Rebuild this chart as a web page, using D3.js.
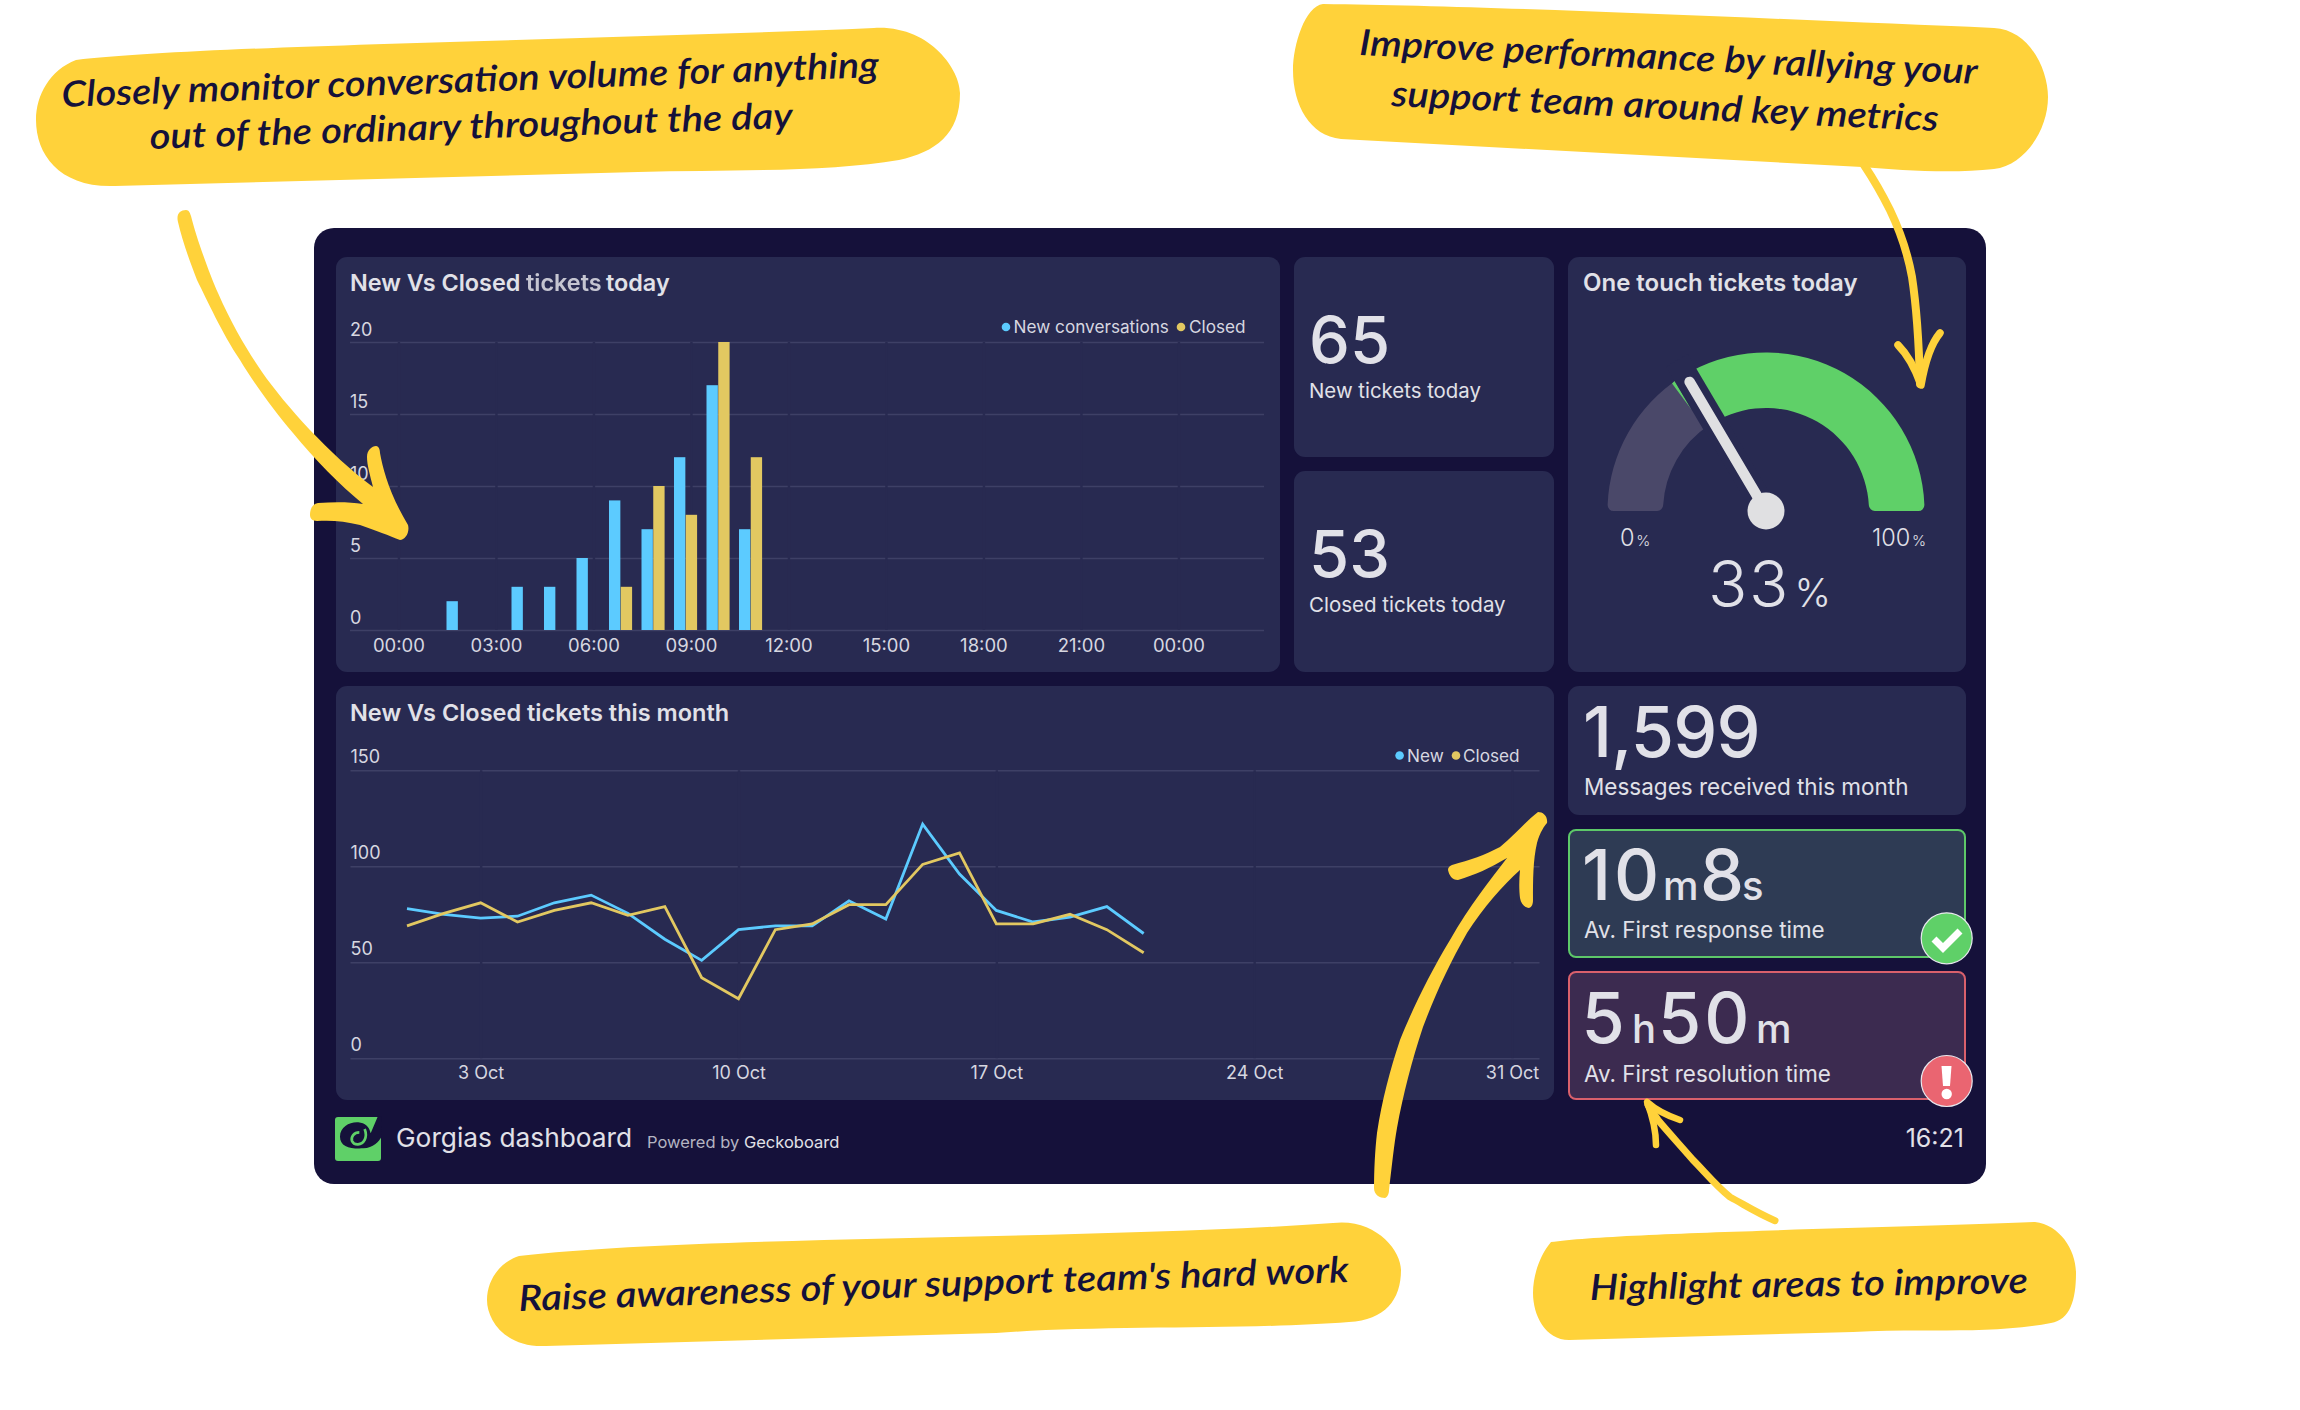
<!DOCTYPE html>
<html><head><meta charset="utf-8">
<script src="https://cdn.jsdelivr.net/npm/d3@7"></script>
<style>
html,body{margin:0;padding:0;background:#fff}
svg{display:block}
text{font-family:Inter,"Noto Sans",sans-serif}
.tick text{font-family:Inter,"Noto Sans",sans-serif}
</style></head><body>
<svg id="c" width="2300" height="1410" viewBox="0 0 2300 1410"></svg>
<script>
// ---- data ----
const hours = d3.range(0, 25);
const hourTicks = [0, 3, 6, 9, 12, 15, 18, 21, 24];
const hourLabels = ["00:00","03:00","06:00","09:00","12:00","15:00","18:00","21:00","00:00"];
const todayNew    = [0,0,2,0,3,3,5,9,7,12,17,7];
const todayClosed = [0,0,0,0,0,0,0,3,10,8,20,12];
const todayYTicks = [0,5,10,15,20];
const days = d3.range(1, 22);
const monthNew    = [78,75,73,74,81,85,75.5,62,51,67,69,69,82,72.5,122,96,77,71,73.5,79,65];
const monthClosed = [69,75.5,81,71,77,81,74.5,79,42,31,67,70,80,80,101,107,70,70,75,67,55];
const monthTicks = [3,10,17,24,31];
const monthYTicks = [0,50,100,150];
const gaugeValue = 33;

// ---- palette ----
const C = {dash:"#15113a",panel:"#282a51",grid:"#3e4066",text:"#e1e1e8",tick:"#d7d7e0",blue:"#5ccbff",gold:"#e2c861",
  yellow:"#ffd23a",green:"#5fd068",red:"#ea6571",gray:"#4a4869",ink:"#15113a"};

const svg = d3.select("#c");
const panels = [
  [336,257,944,415],[1294,257,260,200],[1294,471,260,201],[1568,257,398,415],
  [336,686,1218,414],[1568,686,398,129]];

function txt(g,x,y,s,size,o={}){
  return g.append("text").attr("x",x).attr("y",y).text(s)
    .attr("font-size",size).attr("font-weight",o.w||400).attr("fill",o.c||C.text)
    .attr("text-anchor",o.a||"start").attr("opacity",o.op==null?1:o.op)
    .attr("letter-spacing",o.ls||null);
}

// dashboard
svg.append("rect").attr("x",314).attr("y",228).attr("width",1672).attr("height",956).attr("rx",20).attr("fill",C.dash);
svg.selectAll("rect.p").data(panels).join("rect").attr("class","p")
  .attr("x",d=>d[0]).attr("y",d=>d[1]).attr("width",d=>d[2]).attr("height",d=>d[3]).attr("rx",11).attr("fill",C.panel);
svg.append("rect").attr("x",1569).attr("y",830).attr("width",396).attr("height",127).attr("rx",7).attr("fill","#2e3b54").attr("stroke","#5dc869").attr("stroke-width",2);
svg.append("rect").attr("x",1569).attr("y",972).attr("width",396).attr("height",127).attr("rx",7).attr("fill","#3c2b50").attr("stroke","#d9606c").attr("stroke-width",2);

// ---- bar chart (today) ----
const bars = svg.append("g");
txt(bars,350,290.5,"New Vs Closed",23.4,{w:600});
txt(bars,526,290.5,"tickets",23.4,{w:600,op:.85}).style("filter","blur(.6px)");
txt(bars,606,290.5,"today",23.4,{w:600});
const x0 = d3.scaleBand().domain(hours).range([377,1189.5]).paddingInner(.277).paddingOuter(.1385);
const x1 = d3.scaleBand().domain(["new","closed"]).range([0,x0.bandwidth()]);
const yT = d3.scaleLinear().domain([0,20]).range([630,342]);
const gyT = bars.append("g").attr("transform","translate(350,0)")
  .call(d3.axisRight(yT).tickValues(todayYTicks).tickSize(914));
gyT.select(".domain").remove();
gyT.selectAll("line").attr("stroke",C.grid).attr("stroke-width",1.6);
gyT.selectAll("text").attr("x",0).attr("dy",-6.5).attr("text-anchor","start").attr("font-size",18).attr("fill",C.tick)
   .attr("dominant-baseline","auto");
const gxT = bars.append("g").attr("transform","translate(5.7,630)")
  .call(d3.axisBottom(x0).tickValues(hourTicks).tickFormat((d,i)=>hourLabels[i]).tickSize(-288).tickPadding(0));
gxT.select(".domain").remove();
gxT.selectAll("line").attr("stroke",C.panel).attr("stroke-width",2.4);
gxT.selectAll("text").attr("y",21.5).attr("dy",0).attr("font-size",18.5).attr("fill",C.tick);
const rows = [["new",todayNew,C.blue],["closed",todayClosed,C.gold]];
rows.forEach(([k,vals,col])=>{
  bars.append("g").selectAll("rect").data(vals.map((v,i)=>({h:hours[i],v})).filter(d=>d.v>0)).join("rect")
    .attr("x",d=>x0(d.h)+x1(k)).attr("width",x1.bandwidth()-.4)
    .attr("y",d=>yT(d.v)).attr("height",d=>yT(0)-yT(d.v)).attr("fill",col);
});
function legend(g,y,items){
  items.forEach(([dx,tx,s,col])=>{
    g.append("circle").attr("cx",dx).attr("cy",y-6).attr("r",4.3).attr("fill",col);
    txt(g,tx,y,s,17.2,{c:C.tick});
  });
}
legend(bars,333,[[1006,1013.5,"New conversations",C.blue],[1181,1189,"Closed",C.gold]]);

// ---- line chart (month) ----
const lineG = svg.append("g");
txt(lineG,350,720.5,"New Vs Closed tickets this month",23.5,{w:600});
const xM = d3.scaleLinear().domain([1,31]).range([407,1512]);
const yM = d3.scaleLinear().domain([0,150]).range([1058.3,770.3]);
const gyM = lineG.append("g").attr("transform","translate(350.5,0)")
  .call(d3.axisRight(yM).tickValues(monthYTicks).tickSize(1189));
gyM.select(".domain").remove();
gyM.selectAll("line").attr("stroke",C.grid).attr("stroke-width",1.6);
gyM.selectAll("text").attr("x",0).attr("dy",-8).attr("text-anchor","start").attr("font-size",18).attr("fill",C.tick);
const gxM = lineG.append("g").attr("transform","translate(0,1058.3)")
  .call(d3.axisBottom(xM).tickValues(monthTicks).tickFormat(d=>d+" Oct").tickSize(-288).tickPadding(0));
gxM.select(".domain").remove();
gxM.selectAll("line").attr("stroke",C.panel).attr("stroke-width",2.4);
gxM.selectAll("text").attr("y",20.5).attr("dy",0).attr("font-size",18).attr("fill",C.tick);
const line = d3.line().x((d,i)=>xM(days[i])).y(d=>yM(d));
lineG.append("path").datum(monthNew).attr("d",line).attr("fill","none").attr("stroke",C.blue).attr("stroke-width",2.8);
lineG.append("path").datum(monthClosed).attr("d",line).attr("fill","none").attr("stroke",C.gold).attr("stroke-width",2.8);
legend(lineG,761.5,[[1399.6,1407,"New",C.blue],[1456,1463,"Closed",C.gold]]);

// ---- big numbers ----
const big = svg.append("g");
txt(big,1309,363,"65",65,{w:500});
txt(big,1309,397.5,"New tickets today",20.4);
txt(big,1309,577,"53",65,{w:500});
txt(big,1309,611.5,"Closed tickets today",20.5);
txt(big,1583,290.5,"One touch tickets today",24,{w:600});
txt(big,1583,757,"1,599",70,{w:500,ls:-.8});
txt(big,1584,795,"Messages received this month",22.5);
[[1582,"10",70,3],[1663,"m",40,0],[1700,"8",70,0],[1742,"s",40,0]].forEach(d=>txt(big,d[0],900,d[1],d[2],{w:500,ls:d[3]}));
txt(big,1584,938,"Av. First response time",22.4);
[[1581.5,"5",70,0],[1632,"h",40,0],[1658,"50",70,3],[1756,"m",40,0]].forEach(d=>txt(big,d[0],1043,d[1],d[2],{w:500,ls:d[3]}));
txt(big,1584,1081.5,"Av. First resolution time",22.4);
txt(big,1964,1146.5,"16:21",25,{a:"end"});

// ---- gauge ----
const g = svg.append("g").attr("transform","translate(1766,511)");
const ang = d3.scaleLinear().domain([0,100]).range([-Math.PI/2,Math.PI/2]);
const arc = d3.arc().innerRadius(103).outerRadius(158.5).cornerRadius(6);
g.append("path").attr("d",arc({startAngle:ang(0),endAngle:ang(gaugeValue)})).attr("fill",C.gray);
g.append("path").attr("d",arc({startAngle:ang(gaugeValue),endAngle:ang(100)})).attr("fill",C.green);
const a = ang(gaugeValue), deg = a*180/Math.PI;
g.append("path").attr("transform",`rotate(${deg})`).attr("d","M-12.5,-158.5 L-16,-157.5 L-12.5,-125Z").attr("fill",C.green);
const tip = r=>[Math.sin(a)*r,-Math.cos(a)*r];
g.append("line").attr("x1",0).attr("y1",0).attr("x2",tip(175)[0]).attr("y2",tip(175)[1]).attr("stroke",C.panel).attr("stroke-width",25);
g.append("line").attr("x1",0).attr("y1",0).attr("x2",tip(150)[0]).attr("y2",tip(150)[1]).attr("stroke","#e0e0e2").attr("stroke-width",10.5).attr("stroke-linecap","round");
g.append("circle").attr("r",18.5).attr("fill","#e0e0e2");
const pct=(x,y,n,s1,s2,w,ls)=>{const t=txt(big,x,y,n,s1,{w:w,ls:ls});t.append("tspan").attr("font-size",s2).attr("dx",s2*.12).text("%");return t;};
pct(1620,546,"0",23.5,15,300);
pct(1872,546,"100",23.5,15,300);
pct(1708,606.5,"33",65,39,300,1.5);

// ---- badges ----
const bd = svg.append("g");
bd.append("circle").attr("cx",1946.7).attr("cy",938.3).attr("r",25.5).attr("fill",C.green).attr("stroke","#e8e8ee").attr("stroke-width",1.2);
bd.append("path").attr("d","M1934,939 L1943,948 L1960,931").attr("fill","none").attr("stroke","#fff").attr("stroke-width",7);
bd.append("circle").attr("cx",1946.7).attr("cy",1081).attr("r",25.5).attr("fill",C.red).attr("stroke","#e8e8ee").attr("stroke-width",1.2);
bd.append("path").attr("d","M1941.5,1066 L1951.5,1066 L1950,1086 L1943,1086Z").attr("fill","#fff");
bd.append("circle").attr("cx",1946.7).attr("cy",1094).attr("r",5.2).attr("fill","#fff");

// ---- footer ----
const f = svg.append("g");
f.append("rect").attr("x",335).attr("y",1117).attr("width",46).attr("height",44).attr("rx",3).attr("fill",C.green);
f.append("g").attr("transform","translate(330,1105) scale(.3333)").call(s=>{
  s.append("path").attr("d","M143,35 L156,35 L156,92 C146,112 130,128 100,130 C60,132 30,125 30,95 C30,65 60,50 85,52 C105,54 118,65 122,85Z").attr("fill",C.dash);
  s.append("path").attr("d","M88,82 C72,82 62,95 66,108 C72,122 95,122 104,105 C110,92 108,82 104,72").attr("fill","none").attr("stroke",C.green).attr("stroke-width",8);
});
txt(f,396,1146.5,"Gorgias dashboard",26.3);
const pw = txt(f,647,1147.5,"Powered by ",16.5,{c:"#b4b4c2"});
pw.append("tspan").attr("fill",C.text).text("Geckoboard");

// ---- callouts ----
const cal = svg.append("g");
const blobs = [
 "M76,60 C200,45 600,40 874,28 C930,25 960,70 960,93 C960,135 935,152 899,160 C830,172 730,170 638,172 L115,186 C60,188 36,155 36,120 C36,95 50,70 76,60Z",
 "M1323,4 C1500,6 1800,20 1994,28 C2030,30 2048,70 2048,97 C2048,130 2025,165 1994,169 C1950,174 1900,170 1862,167 L1341,139 C1310,136 1293,105 1293,70 C1293,45 1305,6 1323,4Z",
 "M519,1256 C700,1235 1100,1240 1333,1223 C1375,1218 1401,1250 1401,1270 C1401,1300 1385,1320 1349,1322 C1250,1330 1100,1325 996,1333 L546,1346 C505,1348 487,1320 487,1300 C487,1280 500,1262 519,1256Z",
 "M1551,1242 C1620,1232 1900,1228 2035,1222 C2060,1225 2076,1250 2076,1273 C2076,1300 2070,1320 2051,1323 C1990,1335 1920,1328 1853,1332 L1569,1340 C1545,1340 1533,1315 1533,1293 C1533,1275 1540,1255 1551,1242Z"];
cal.selectAll("path.b").data(blobs).join("path").attr("class","b").attr("d",d=>d).attr("fill",C.yellow);
const notes = [
 ["Closely monitor conversation volume for anything",62,107,879,77],
 ["out of the ordinary throughout the day",150,149,793,128],
 ["Improve performance by rallying your",1359,55,1977,84],
 ["support team around key metrics",1391,106,1938,131],
 ["Raise awareness of your support team's hard work",519,1311,1349,1282],
 ["Highlight areas to improve",1590,1300,2028,1293]];
notes.forEach(([s,x0,y0,x1,y1])=>{
  const ang=Math.atan2(y1-y0,x1-x0)*180/Math.PI, L=Math.hypot(x1-x0,y1-y0);
  cal.append("text").attr("transform",`translate(${x0},${y0}) rotate(${ang})`)
    .style("font-family","Lato,sans-serif").attr("font-style","italic").attr("font-weight",600)
    .attr("font-size",36).attr("fill",C.ink).attr("textLength",L).attr("lengthAdjust","spacingAndGlyphs").text(s);
});

// ---- arrows ----
const arrows = svg.append("g").attr("fill",C.yellow);
arrows.append("path").attr("d","M178,222 C176,214 180,210 186,210 C189,210 190,213 191,216 C197,240 210,275 218,293 C232,325 247,350 262,372 C285,405 330,455 373,487 C370,475 367,465 367,457 C367,450 372,446 376,446 C379,446 380,450 380,453 C383,470 390,495 408,525 C410,533 405,540 400,540 C390,536 375,530 360,525 C345,521 330,520 317,521 C312,521 310,518 310,515 C310,508 313,504 318,503 C335,502 350,502 363,504 C340,485 315,460 293,433 C275,412 255,385 240,360 C222,333 207,300 197,280 C190,262 182,240 178,222Z");
arrows.append("path").attr("d","M1374,1188 C1374,1195 1380,1198 1385,1198 C1388,1197 1389,1193 1389,1190 C1392,1165 1394,1145 1397,1128 C1403,1095 1412,1060 1423,1027 C1437,990 1450,963 1467,933 C1483,908 1503,885 1520,870 C1519,880 1519,890 1520,898 C1521,904 1525,908 1529,908 C1532,907 1533,904 1533,900 C1533,880 1533,860 1537,843 C1540,832 1545,825 1547,823 C1548,816 1543,812 1538,812 C1525,822 1515,835 1500,847 C1485,855 1470,860 1452,865 C1449,866 1448,868 1448,870 C1449,875 1452,880 1458,880 C1475,875 1490,868 1507,858 C1490,880 1470,905 1450,940 C1430,973 1412,1010 1400,1040 C1390,1070 1382,1100 1377,1133 C1375,1150 1374,1170 1374,1188Z");
const sa = svg.append("g").attr("fill","none").attr("stroke",C.yellow).attr("stroke-linecap","round");
sa.append("path").attr("d","M1775,1220.7 C1755,1212 1745,1205 1730,1197 C1715,1185 1705,1172 1693,1160 C1680,1145 1668,1132 1658,1120 L1648,1105").attr("stroke-width",7);
sa.append("path").attr("d","M1680,1120 C1668,1116 1656,1110 1647,1102 C1652,1115 1656,1130 1656,1145").attr("stroke-width",6.5).attr("stroke-linejoin","round");
sa.append("path").attr("d","M1864,165 C1878,186 1884,198 1890,210 C1902,235 1908,255 1912,277 C1917,310 1919,345 1920,384").attr("stroke-width",8);
sa.append("path").attr("d","M1940,333 C1930,345 1925,362 1921,385 C1915,368 1908,355 1898,345").attr("stroke-width",7.5).attr("stroke-linejoin","round");
</script>
</body></html>
